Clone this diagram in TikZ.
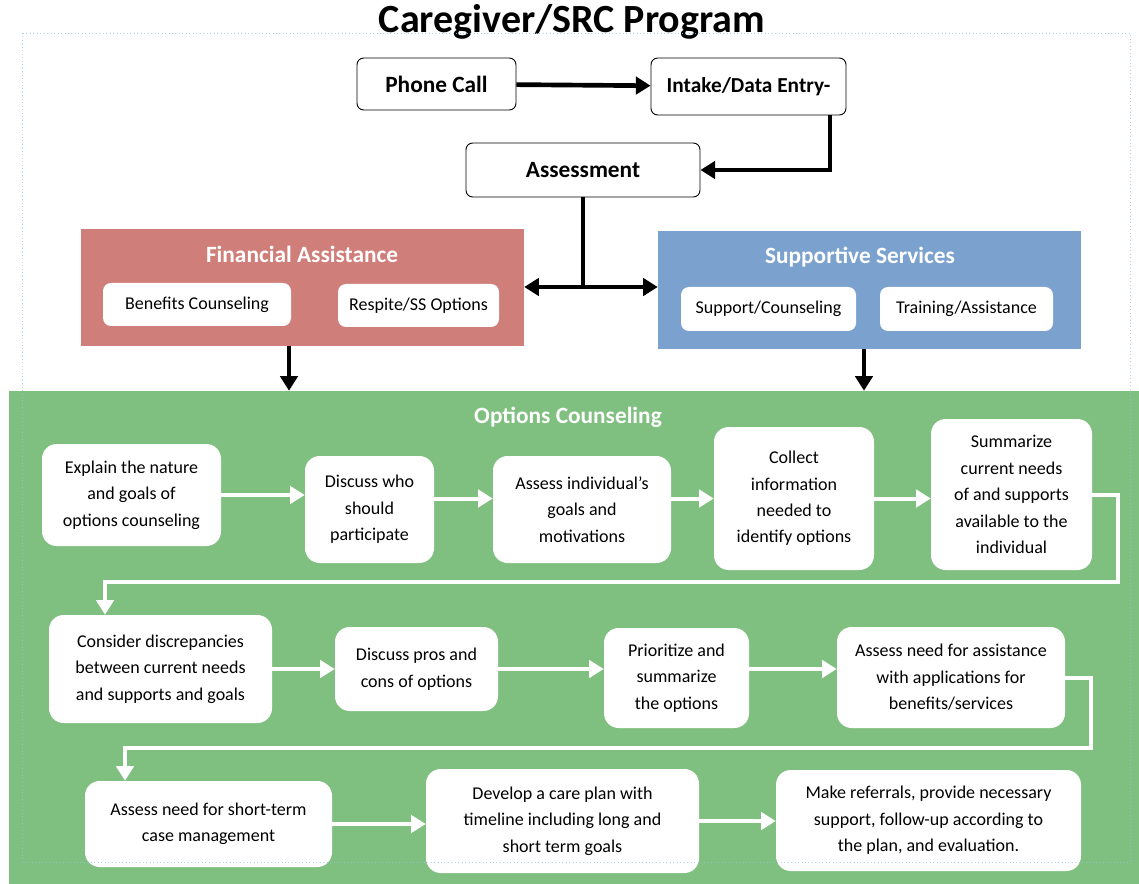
\documentclass[tikz,border=0pt]{standalone}
\usepackage{fontspec}
\setmainfont{Carlito}
\usetikzlibrary{arrows.meta}

\definecolor{finred}{RGB}{208,126,122}
\definecolor{supblue}{RGB}{123,162,206}
\definecolor{ocgreen}{RGB}{127,191,127}
\definecolor{frameblue}{RGB}{150,195,235}

\begin{document}
\begin{tikzpicture}[x=0.75pt,y=-0.75pt,
    sz/.style 2 args={minimum width=#1*0.75pt,minimum height=#2*0.75pt},
    topbox/.style={draw=black,fill=white,rounded corners=5pt,line width=0.7pt,inner sep=0pt,font=\fontsize{17.5}{20}\selectfont\bfseries},
    panel/.style={draw=none,inner sep=0pt},
    head/.style={text=white,inner sep=0pt,font=\fontsize{17.5}{20}\selectfont\bfseries},
    subbox/.style={fill=white,rounded corners=6pt,inner sep=0pt,font=\fontsize{13.5}{16}\selectfont},
    stepbox/.style={fill=white,rounded corners=11pt,inner sep=0pt,align=center,font=\fontsize{13.5}{19.8}\selectfont},
    bflow/.style={line width=3.5pt,-{Triangle[length=11pt,width=13pt]}},
    wflow/.style={white,line width=3pt,-{Triangle[length=11pt,width=13pt]}}]
    \useasboundingbox (0,0) rectangle (1139,884);

    % title and program boxes
    \node[font=\fontsize{30}{34}\selectfont\bfseries] (title) at (572,22) {Caregiver/SRC Program};
    \node[topbox,sz={159}{52}] (phone) at (436.5,84) {Phone Call};
    \node[topbox,sz={195}{57},font=\fontsize{16}{18}\selectfont\bfseries] (intake) at (748.5,86.5) {Intake/Data Entry-};
    \node[topbox,sz={234}{54}] (assess) at (583,170) {Assessment};

    % panels
    \node[panel,fill=finred,sz={443}{117}] (fin) at (302.5,287.5) {};
    \node[head] (finhead) at (302,254) {Financial Assistance};
    \node[subbox,sz={188}{43}] (benefit) at (197,304.5) {Benefits Counseling};
    \node[subbox,sz={161}{43}] (respite) at (418.5,305.5) {Respite/SS Options};

    \node[panel,fill=supblue,sz={423}{118}] (sup) at (869.5,290) {};
    \node[head] (suphead) at (860,257) {Supportive Services};
    \node[subbox,sz={175}{44}] (support) at (768.5,309) {Support/Counseling};
    \node[subbox,sz={173}{44}] (training) at (966.5,309) {Training/Assistance};

    \node[panel,fill=ocgreen,sz={1130}{493}] (oc) at (574,637.5) {};
    \node[head] (ochead) at (568,417) {Options Counseling};

    % options counseling steps
    \node[stepbox,sz={179}{102}] (n1) at (131.5,495) {Explain the nature\\and goals of\\options counseling};
    \node[stepbox,sz={129}{107}] (n2) at (369.5,509.5) {Discuss who\\should\\participate};
    \node[stepbox,sz={178}{107}] (n3) at (582,509.5) {Assess individual’s\\goals and\\motivations};
    \node[stepbox,sz={160}{143}] (n4) at (794,498.5) {Collect\\information\\needed to\\identify options};
    \node[stepbox,sz={161}{151}] (n5) at (1011.5,494.5) {Summarize\\current needs\\of and supports\\available to the\\individual};

    \node[stepbox,sz={223}{108}] (n6) at (160.5,669) {Consider discrepancies\\between current needs\\and supports and goals};
    \node[stepbox,sz={163}{84}] (n7) at (416.5,669) {Discuss pros and\\cons of options};
    \node[stepbox,sz={145}{100}] (n8) at (676.5,678) {Prioritize and\\summarize\\the options};
    \node[stepbox,sz={228}{101}] (n9) at (951,677.5) {Assess need for assistance\\with applications for\\benefits/services};

    \node[stepbox,sz={247}{86}] (n10) at (208.5,824) {Assess need for short-term\\case management};
    \node[stepbox,sz={273}{104}] (n11) at (562.5,821) {Develop a care plan with\\timeline including long and\\short term goals};
    \node[stepbox,sz={305}{101}] (n12) at (928.5,820.5) {Make referrals, provide necessary\\support, follow-up according to\\the plan, and evaluation.};

    % turning points
    \coordinate (split) at (583,287);
    \coordinate (findrop) at (289,346);
    \coordinate (r1) at (1118,582);
    \coordinate (l1) at (105,582);
    \coordinate (r2) at (1091,748);
    \coordinate (l2) at (125,748);

    % edges
    \draw[bflow] (phone) -- (intake);
    \draw[bflow] (intake.south -| 830,0) |- (assess.east);
    \draw[line width=3.5pt] (assess.south) -- (split);
    \draw[line width=3.5pt,{Triangle[length=11pt,width=13pt]}-{Triangle[length=11pt,width=13pt]}] (fin.east |- split) -- (sup.west |- split);
    \draw[bflow,line width=3pt] (findrop) -- (findrop |- oc.north);
    \draw[bflow,line width=3pt] (sup.south -| 864,0) -- (oc.north -| 864,0);

    \draw[wflow] (n1.east) -- (n1.east -| n2.west);
    \draw[wflow] (n2.east |- n4.east) -- (n3.west |- n4.east);
    \draw[wflow] (n3.east |- n4.east) -- (n4.west);
    \draw[wflow] (n4.east) -- (n4.east -| n5.west);
    \draw[wflow] (n5.east) -| (r1) -- (l1) -- (l1 |- n6.north);

    \draw[wflow] (n6.east) -- (n6.east -| n7.west);
    \draw[wflow] (n7.east) -- (n7.east -| n8.west);
    \draw[wflow] (n8.east |- n7.east) -- (n9.west |- n7.east);
    \draw[wflow] (n9.east) -| (r2) -- (l2) -- (l2 |- n10.north);

    \draw[wflow] (n10.east) -- (n10.east -| n11.west);
    \draw[wflow] (n11.east) -- (n11.east -| n12.west);

    % outer frame
    \draw[frameblue,dotted,line width=0.6pt,draw opacity=0.8] (22,33) rectangle (1130,862);
\end{tikzpicture}
\end{document}
